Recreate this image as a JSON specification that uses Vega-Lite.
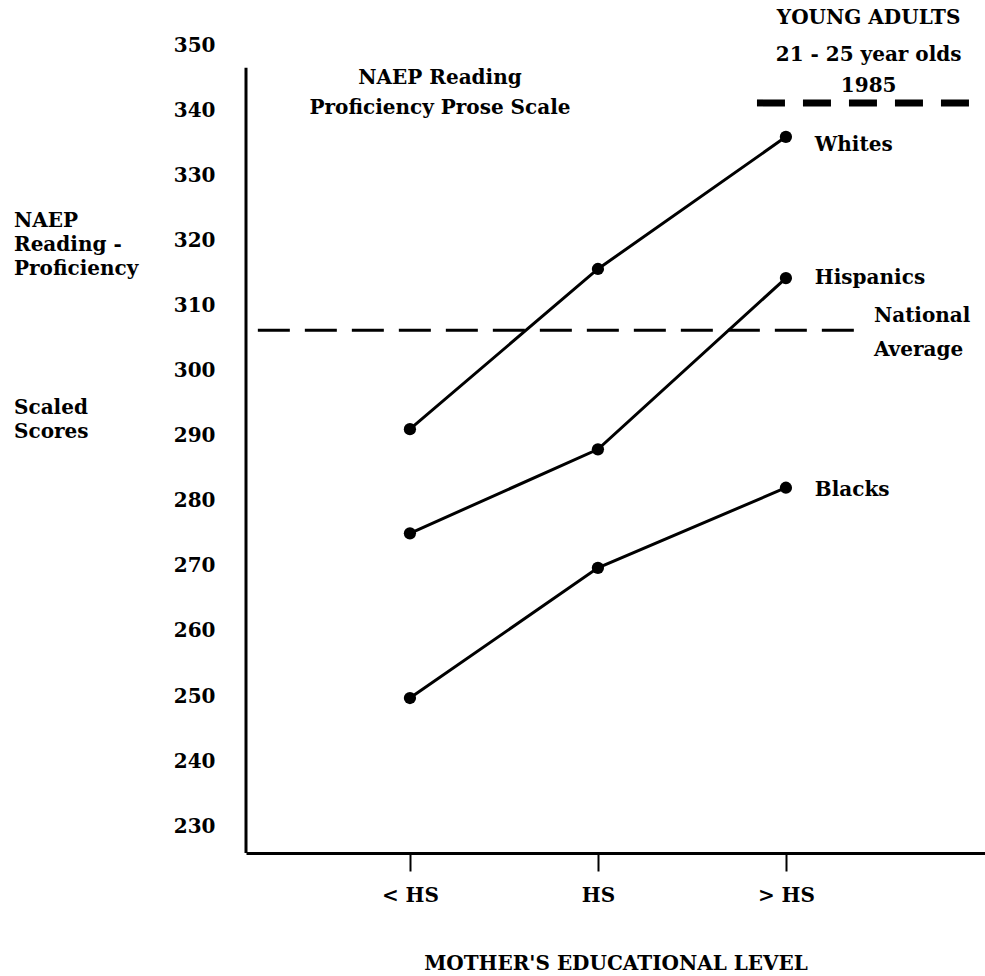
{
  "$schema": "https://vega.github.io/schema/vega-lite/v6.json",
  "width": 739,
  "height": 808,
  "autosize": {"type": "none"},
  "padding": {"left": 246, "top": 45, "right": 0, "bottom": 123},
  "background": "white",
  "config": {
    "view": {"stroke": null},
    "font": "DejaVu Serif",
    "text": {"font": "DejaVu Serif", "fontWeight": "bold", "fontSize": 20, "color": "black"},
    "axis": {
      "labelFont": "DejaVu Serif", "labelFontWeight": "bold", "labelFontSize": 20, "labelColor": "black",
      "titleFont": "DejaVu Serif", "titleFontWeight": "bold", "titleFontSize": 20, "titleColor": "black",
      "grid": false
    }
  },
  "datasets": {
    "scores": [
      {"level": 1, "group": "Whites", "score": 291.0},
      {"level": 2, "group": "Whites", "score": 315.6},
      {"level": 3, "group": "Whites", "score": 335.9},
      {"level": 1, "group": "Hispanics", "score": 275.0},
      {"level": 2, "group": "Hispanics", "score": 287.9},
      {"level": 3, "group": "Hispanics", "score": 314.2},
      {"level": 1, "group": "Blacks", "score": 249.7},
      {"level": 2, "group": "Blacks", "score": 269.7},
      {"level": 3, "group": "Blacks", "score": 282.0}
    ],
    "axisline": [{"level": 0.128, "score": 225.9, "score2": 346.5}],
    "national": [{"level": 0.191, "level2": 3.378, "score": 306.2}],
    "young": [{"level": 2.846, "level2": 4.059, "score": 341.1}],
    "leftText": [
      {"text": "Whites", "level": 3.154, "score": 334.6},
      {"text": "Hispanics", "level": 3.154, "score": 314.2},
      {"text": "Blacks", "level": 3.154, "score": 281.6},
      {"text": "National", "level": 3.468, "score": 308.4},
      {"text": "Average", "level": 3.468, "score": 303.1},
      {"text": "NAEP", "level": -1.106, "score": 323.0},
      {"text": "Reading -", "level": -1.106, "score": 319.3},
      {"text": "Proficiency", "level": -1.106, "score": 315.6},
      {"text": "Scaled", "level": -1.106, "score": 294.3},
      {"text": "Scores", "level": -1.106, "score": 290.6}
    ],
    "centerText": [
      {"text": "YOUNG ADULTS", "level": 3.44, "score": 354.1},
      {"text": "21 - 25 year olds", "level": 3.44, "score": 348.5},
      {"text": "1985", "level": 3.44, "score": 343.7},
      {"text": "NAEP Reading", "level": 1.16, "score": 344.9},
      {"text": "Proficiency Prose Scale", "level": 1.16, "score": 340.3}
    ]
  },
  "layer": [
    {
      "data": {"name": "axisline"},
      "mark": {"type": "rule", "color": "black", "strokeWidth": 3},
      "encoding": {
        "x": {"field": "level", "type": "quantitative", "scale": {"domain": [0.128, 4.059], "nice": false, "zero": false},
              "axis": {"values": [1, 2, 3], "labelExpr": "datum.value == 1 ? '< HS' : datum.value == 2 ? 'HS' : '> HS'",
                       "title": "MOTHER'S EDUCATIONAL LEVEL", "domainColor": "black", "domainWidth": 3,
                       "tickColor": "black", "tickWidth": 2, "tickSize": 18, "labelPadding": 14,
                       "labelFlush": false, "titlePadding": 48}},
        "y": {"field": "score", "type": "quantitative", "scale": {"domain": [225.9, 350], "nice": false, "zero": false},
              "axis": {"values": [230, 240, 250, 260, 270, 280, 290, 300, 310, 320, 330, 340, 350],
                       "domain": false, "ticks": false, "tickSize": 0, "labelPadding": 31, "title": null}},
        "y2": {"field": "score2"}
      }
    },
    {
      "data": {"name": "national"},
      "mark": {"type": "rule", "color": "black", "strokeWidth": 3, "strokeDash": [32, 15]},
      "encoding": {
        "x": {"field": "level", "type": "quantitative", "scale": {"domain": [0.128, 4.059], "nice": false, "zero": false}},
        "x2": {"field": "level2"},
        "y": {"field": "score", "type": "quantitative", "scale": {"domain": [225.9, 350], "nice": false, "zero": false}}
      }
    },
    {
      "data": {"name": "young"},
      "mark": {"type": "rule", "color": "black", "strokeWidth": 7, "strokeDash": [28, 18]},
      "encoding": {
        "x": {"field": "level", "type": "quantitative", "scale": {"domain": [0.128, 4.059], "nice": false, "zero": false}},
        "x2": {"field": "level2"},
        "y": {"field": "score", "type": "quantitative", "scale": {"domain": [225.9, 350], "nice": false, "zero": false}}
      }
    },
    {
      "data": {"name": "scores"},
      "mark": {"type": "line", "color": "black", "strokeWidth": 3},
      "encoding": {
        "x": {"field": "level", "type": "quantitative", "scale": {"domain": [0.128, 4.059], "nice": false, "zero": false}},
        "y": {"field": "score", "type": "quantitative", "scale": {"domain": [225.9, 350], "nice": false, "zero": false}},
        "detail": {"field": "group"}
      }
    },
    {
      "data": {"name": "scores"},
      "mark": {"type": "point", "filled": true, "color": "black", "opacity": 1, "size": 150},
      "encoding": {
        "x": {"field": "level", "type": "quantitative", "scale": {"domain": [0.128, 4.059], "nice": false, "zero": false}},
        "y": {"field": "score", "type": "quantitative", "scale": {"domain": [225.9, 350], "nice": false, "zero": false}}
      }
    },
    {
      "data": {"name": "leftText"},
      "mark": {"type": "text", "align": "left", "baseline": "middle"},
      "encoding": {
        "x": {"field": "level", "type": "quantitative", "scale": {"domain": [0.128, 4.059], "nice": false, "zero": false}},
        "y": {"field": "score", "type": "quantitative", "scale": {"domain": [225.9, 350], "nice": false, "zero": false}},
        "text": {"field": "text"}
      }
    },
    {
      "data": {"name": "centerText"},
      "mark": {"type": "text", "align": "center", "baseline": "middle"},
      "encoding": {
        "x": {"field": "level", "type": "quantitative", "scale": {"domain": [0.128, 4.059], "nice": false, "zero": false}},
        "y": {"field": "score", "type": "quantitative", "scale": {"domain": [225.9, 350], "nice": false, "zero": false}},
        "text": {"field": "text"}
      }
    }
  ]
}
